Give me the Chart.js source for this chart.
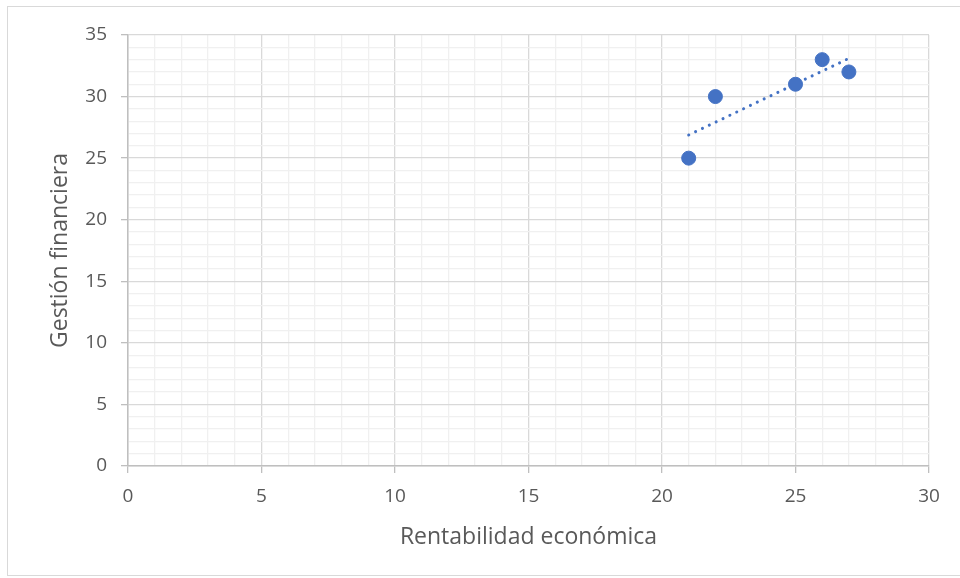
<!DOCTYPE html>
<html>
<head>
<meta charset="utf-8">
<script src="https://cdn.jsdelivr.net/npm/chart.js@4.4.1/dist/chart.umd.min.js"></script>
<style>
  html, body { margin: 0; padding: 0; background: #fff; }
  #wrap { position: relative; width: 960px; height: 578px; }
  #frame { position: absolute; left: 7px; top: 6px; width: 960px; height: 570px; border: 1px solid #d9d9d9; box-sizing: border-box; pointer-events: none; }
</style>
</head>
<body>
<div id="wrap">
  <canvas id="chart" width="960" height="578"></canvas>
  <div id="frame"></div>
</div>
<script>
// datos
const rentabilidad = [21, 22, 25, 26, 27];
const gestion = [25, 30, 31, 33, 32];
const xTicks = [0, 5, 10, 15, 20, 25, 30];
const yTicks = [0, 5, 10, 15, 20, 25, 30, 35];

const puntos = rentabilidad.map((x, i) => ({ x: x, y: gestion[i] }));

// linea de tendencia lineal (minimos cuadrados)
const n = rentabilidad.length;
const mx = rentabilidad.reduce((a, b) => a + b, 0) / n;
const my = gestion.reduce((a, b) => a + b, 0) / n;
let sxy = 0, sxx = 0;
for (let i = 0; i < n; i++) {
    sxy += (rentabilidad[i] - mx) * (gestion[i] - my);
    sxx += (rentabilidad[i] - mx) ** 2;
}
const pendiente = sxy / sxx;
const corte = my - pendiente * mx;
const xMin = Math.min(...rentabilidad), xMax = Math.max(...rentabilidad);
const tendencia = [
    { x: xMin, y: corte + pendiente * xMin },
    { x: xMax, y: corte + pendiente * xMax }
];

const fuente = "'Open Sans', 'Noto Sans', sans-serif";
const gris = "#595959";

function gridColor(ctx) {
    return ctx.tick && ctx.tick.value % 5 === 0 ? "#d9d9d9" : "#f0f0f0";
}
function tickColor(ctx) {
    return ctx.tick && ctx.tick.value % 5 === 0 ? "#bfbfbf" : "rgba(0,0,0,0)";
}

const chrt = document.getElementById("chart").getContext("2d");
new Chart(chrt, {
    type: 'scatter',
    data: {
        datasets: [{
            label: "Gestión financiera",
            data: puntos,
            backgroundColor: "#4472C4",
            borderColor: "#4472C4",
            pointRadius: 7,
            pointHoverRadius: 7,
            order: 1
        }, {
            type: 'line',
            label: "Tendencia",
            data: tendencia,
            borderColor: "#4472C4",
            borderWidth: 3,
            borderDash: [0.1, 7.5],
            borderCapStyle: 'round',
            pointRadius: 0,
            fill: false,
            order: 2
        }]
    },
    options: {
        responsive: false,
        animation: false,
        layout: { padding: { top: 35, right: 31, left: 0, bottom: 0 } },
        plugins: {
            legend: { display: false },
            tooltip: { enabled: false }
        },
        scales: {
            x: {
                type: 'linear',
                min: xTicks[0],
                max: xTicks[xTicks.length - 1],
                afterFit: (s) => { s.height = 112; },
                afterBuildTicks: (s) => {
                    const t = [];
                    for (let v = s.min; v <= s.max; v++) t.push({ value: v });
                    s.ticks = t;
                },
                ticks: {
                    autoSkip: false,
                    maxRotation: 0,
                    padding: 12,
                    color: gris,
                    font: { family: fuente, size: 19 },
                    callback: (v) => xTicks.includes(v) ? v : ''
                },
                grid: { color: gridColor, tickColor: tickColor, tickLength: 7, lineWidth: 1.3 },
                border: { color: "#bfbfbf", width: 1.5 },
                title: {
                    display: true,
                    text: "Rentabilidad económica",
                    color: gris,
                    font: { family: fuente, size: 23 },
                    padding: { top: 0, bottom: 27 }
                }
            },
            y: {
                type: 'linear',
                min: yTicks[0],
                max: yTicks[yTicks.length - 1],
                afterFit: (s) => { s.width = 128; },
                afterBuildTicks: (s) => {
                    const t = [];
                    for (let v = s.min; v <= s.max; v++) t.push({ value: v });
                    s.ticks = t;
                },
                ticks: {
                    autoSkip: false,
                    padding: 14,
                    color: gris,
                    font: { family: fuente, size: 19 },
                    callback: (v) => yTicks.includes(v) ? v : ''
                },
                grid: { color: gridColor, tickColor: tickColor, tickLength: 7, lineWidth: 1.3 },
                border: { color: "#bfbfbf", width: 1.5 },
                title: {
                    display: true,
                    text: "Gestión financiera",
                    color: gris,
                    font: { family: fuente, size: 23 },
                    padding: { top: 47 }
                }
            }
        }
    }
});
</script>
</body>
</html>
